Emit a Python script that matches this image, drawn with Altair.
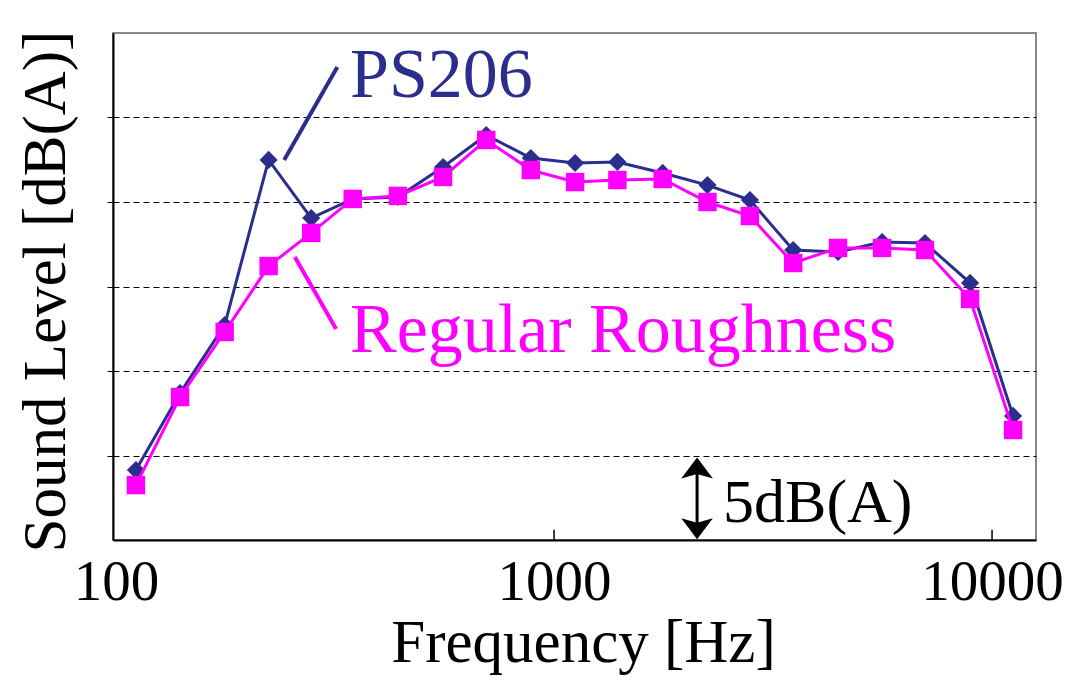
import altair as alt
import pandas as pd

# ---- data ----
freq = [111, 140, 177, 223, 279, 347, 440, 558, 700, 885, 1117, 1395, 1770,
        2240, 2800, 3515, 4450, 5610, 7030, 8910, 11170]
ps206 = [4.14, 8.70, 12.72, 22.49, 19.05, 20.18, 20.30, 22.07, 23.96, 22.60,
         22.31, 22.37, 21.72, 21.00, 20.12, 17.16, 17.04, 17.63, 17.57, 15.21, 7.34]
regular = [3.25, 8.46, 12.31, 16.21, 18.17, 20.18, 20.36, 21.48, 23.67, 21.89,
           21.18, 21.30, 21.36, 20.00, 19.17, 16.39, 17.28, 17.28, 17.16, 14.26, 6.51]
series_names = ["PS206", "Regular Roughness"]
x_tick_values = [100, 1000, 10000]
inner_ticks = [1000, 10000]
y_grid_values = [5, 10, 15, 20, 25]

SERIF = "Liberation Serif"
NAVY = "#2B2E8C"
MAG = "#FF00FF"

df = pd.DataFrame({
    "freq": freq + freq,
    "level": ps206 + regular,
    "series": [series_names[0]] * len(freq) + [series_names[1]] * len(freq),
})

xscale = alt.Scale(type="log", domain=[98.4, 12600], nice=False)
yscale = alt.Scale(domain=[0, 30], nice=False)

X = alt.X("freq:Q", scale=xscale, axis=alt.Axis(
    values=x_tick_values, format="d", title="Frequency [Hz]",
    labelFont=SERIF, labelFontSize=57, labelColor="black",
    labelBaseline="alphabetic", labelPadding=59, labelFlush=False, labelOverlap=False,
    ticks=False, tickSize=0, grid=False,
    domainColor="black", domainWidth=2,
    titleFont=SERIF, titleFontSize=61, titleFontWeight="normal", titleColor="black",
    titleBaseline="alphabetic", titleAlign="center", titleX=470, titleY=121))

Y = alt.Y("level:Q", scale=yscale, axis=alt.Axis(
    values=y_grid_values, labels=False,
    ticks=True, tickSize=6, tickColor="black", tickWidth=1,
    grid=True, gridDash=[6, 4], gridColor="black", gridWidth=1, gridOpacity=1,
    domainColor="black", domainWidth=2,
    title="Sound Level [dB(A)]",
    titleFont=SERIF, titleFontSize=61, titleFontWeight="normal", titleColor="black",
    titleAngle=270, titleBaseline="alphabetic", titleAlign="center",
    titleX=-49, titleY=258))

base = alt.Chart(df)

ps_line = base.transform_filter(alt.datum.series == series_names[0]).mark_line(
    color=NAVY, strokeWidth=3).encode(x=X, y=Y)
ps_pts = base.transform_filter(alt.datum.series == series_names[0]).mark_point(
    shape="diamond", filled=True, size=330, color=NAVY, opacity=1).encode(x=X, y=Y)
rr_line = base.transform_filter(alt.datum.series == series_names[1]).mark_line(
    color=MAG, strokeWidth=3).encode(x=X, y=Y)
rr_pts = base.transform_filter(alt.datum.series == series_names[1]).mark_point(
    shape="square", filled=True, size=340, color=MAG, opacity=1).encode(x=X, y=Y)

one = pd.DataFrame({"k": [0]})

ticks = alt.Chart(pd.DataFrame({"freq": inner_ticks})).mark_rule(
    color="black", strokeWidth=1.5).encode(x=X, y=alt.datum(0), y2=alt.datum(0.6))

ps_text = alt.Chart(one).mark_text(
    text="PS206", font=SERIF, fontSize=70, color=NAVY, align="left",
    baseline="alphabetic").encode(x=alt.datum(342), y=alt.datum(26.2))
ps_leader = alt.Chart(one).mark_rule(color=NAVY, strokeWidth=4).encode(
    x=alt.datum(320), y=alt.datum(27.99), x2=alt.datum(242), y2=alt.datum(22.49))

rr_text = alt.Chart(one).mark_text(
    text="Regular Roughness", font=SERIF, fontSize=70, color=MAG, align="left",
    baseline="alphabetic").encode(x=alt.datum(342), y=alt.datum(11.12))
rr_leader = alt.Chart(one).mark_rule(color=MAG, strokeWidth=4).encode(
    x=alt.datum(256), y=alt.datum(16.75), x2=alt.datum(318), y2=alt.datum(12.49))

arrow_shaft = alt.Chart(one).mark_rule(color="black", strokeWidth=3).encode(
    x=alt.datum(2121), y=alt.datum(0.6), y2=alt.datum(4.4))
arrow_up = alt.Chart(one).mark_point(
    shape="M0,-1L1,0.33L0,0.05L-1,0.33Z", filled=True, size=1000,
    color="black", opacity=1).encode(x=alt.datum(2121), y=alt.datum(3.95))
arrow_down = alt.Chart(one).mark_point(
    shape="M0,1L1,-0.33L0,-0.05L-1,-0.33Z", filled=True, size=1000,
    color="black", opacity=1).encode(x=alt.datum(2121), y=alt.datum(0.98))
arrow_text = alt.Chart(one).mark_text(
    text="5dB(A)", font=SERIF, fontSize=62, color="black", align="left",
    baseline="alphabetic").encode(x=alt.datum(2432), y=alt.datum(1.07))

chart = alt.layer(
    ps_line, ps_pts, rr_line, rr_pts, ticks,
    ps_leader, ps_text, rr_leader, rr_text,
    arrow_shaft, arrow_up, arrow_down, arrow_text,
).properties(
    width=923, height=507,
    autosize=alt.AutoSizeParams(type="none"),
    padding={"left": 105, "top": 25, "right": 28, "bottom": 140},
    background="white",
).configure_view(
    stroke="#888888", strokeWidth=2, fill="white"
)

chart.save("out.html", embed_options={"renderer": "svg", "actions": False})
